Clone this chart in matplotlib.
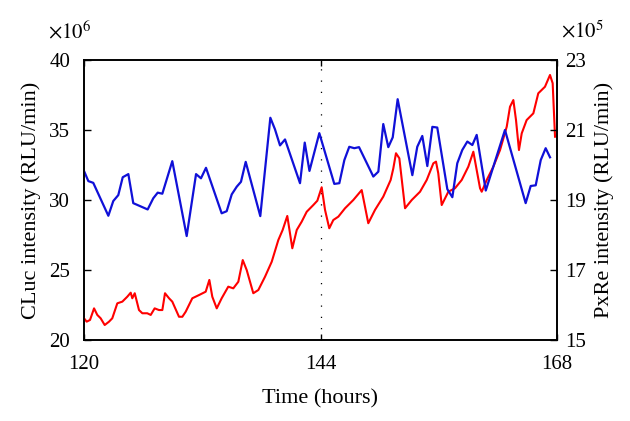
import numpy as np
import matplotlib
matplotlib.use('Agg')
import matplotlib.pyplot as plt

plt.rcParams['font.family'] = ['Liberation Serif', 'DejaVu Serif']
plt.rcParams['mathtext.fontset'] = 'stix'

# PxRe (blue), x10^5 RLU/min, right axis
blue_t = [120.00, 120.44, 120.94, 122.47, 122.97, 123.48, 123.93, 124.50, 125.00, 126.46,
          127.03, 127.48, 127.95, 128.96, 130.42, 131.37, 131.87, 132.38, 133.97, 134.48,
          134.99, 135.50, 135.93, 136.41, 137.89, 138.91, 139.38, 139.89, 140.40, 141.92,
          142.40, 142.88, 143.88, 145.40, 145.91, 146.42, 146.92, 147.43, 147.91, 149.36,
          149.87, 150.37, 150.88, 151.33, 151.83, 153.32, 153.82, 154.33, 154.84, 155.35,
          155.85, 156.87, 157.38, 157.88, 158.39, 158.90, 159.41, 159.85, 160.77, 162.72,
          164.82, 165.33, 165.84, 166.35, 166.85, 167.29]
blue_v = [19.83, 19.54, 19.49, 18.55, 18.97, 19.14, 19.65, 19.74, 18.91, 18.73,
          19.05, 19.21, 19.18, 20.11, 17.97, 19.74, 19.62, 19.92, 18.62, 18.68,
          19.16, 19.38, 19.52, 20.09, 18.54, 21.35, 21.02, 20.56, 20.73, 19.48,
          20.64, 19.83, 20.91, 19.46, 19.48, 20.14, 20.52, 20.48, 20.51, 19.67,
          19.81, 21.17, 20.51, 20.79, 21.88, 19.71, 20.52, 20.83, 19.97, 21.09,
          21.07, 19.31, 19.08, 20.05, 20.43, 20.67, 20.57, 20.86, 19.27, 21.00,
          18.91, 19.40, 19.42, 20.14, 20.48, 20.22]

# CLuc (red), x10^6 RLU/min, left axis
red_t = [120.00, 120.27, 120.61, 121.02, 121.35, 121.69, 122.10, 122.54, 122.87, 123.38,
         123.89, 124.39, 124.74, 124.90, 125.15, 125.58, 125.92, 126.42, 126.77, 127.17,
         127.61, 127.95, 128.22, 128.63, 128.96, 129.64, 129.98, 130.32, 130.99, 131.67,
         132.35, 132.72, 133.02, 133.47, 133.97, 134.64, 135.15, 135.66, 136.11, 136.51,
         137.18, 137.69, 138.37, 139.05, 139.72, 140.16, 140.63, 141.14, 141.59, 142.09,
         142.60, 143.27, 143.68, 144.12, 144.46, 144.89, 145.30, 145.81, 146.49, 147.33,
         148.18, 148.85, 149.53, 150.37, 151.12, 151.39, 151.66, 152.00, 152.58, 153.26,
         154.10, 154.78, 155.45, 155.72, 155.95, 156.30, 156.81, 156.97, 157.65, 158.33,
         159.00, 159.51, 159.85, 160.19, 160.36, 160.87, 161.54, 162.22, 162.90, 163.23,
         163.57, 163.84, 164.14, 164.42, 164.92, 165.60, 166.10, 166.78, 167.29, 167.56,
         167.80]
red_v = [21.55, 21.31, 21.43, 22.26, 21.79, 21.55, 21.07, 21.31, 21.55, 22.62,
         22.74, 23.09, 23.38, 22.98, 23.34, 22.14, 21.91, 21.91, 21.79, 22.26,
         22.14, 22.14, 23.34, 22.98, 22.74, 21.66, 21.66, 22.02, 22.98, 23.21,
         23.45, 24.29, 23.09, 22.26, 22.98, 23.81, 23.69, 24.16, 25.71, 25.00,
         23.34, 23.57, 24.52, 25.59, 27.14, 27.86, 28.86, 26.55, 27.86, 28.45,
         29.16, 29.64, 29.95, 30.91, 29.29, 27.98, 28.57, 28.81, 29.41, 30.00,
         30.71, 28.34, 29.29, 30.24, 31.43, 32.26, 33.34, 32.98, 29.41, 30.00,
         30.59, 31.43, 32.62, 32.74, 31.91, 29.64, 30.36, 30.59, 30.84, 31.43,
         32.38, 33.45, 32.14, 30.84, 30.59, 31.43, 32.38, 33.57, 35.24, 36.66,
         37.14, 35.71, 33.57, 34.76, 35.71, 36.19, 37.62, 38.09, 38.93, 38.34,
         34.52]

x_ticks = [120, 144, 168]
left_ticks = [20, 25, 30, 35, 40]
right_ticks = [15, 17, 19, 21, 23]

fig = plt.figure(figsize=(6.3, 4.21), dpi=100)
ax = fig.add_axes([84 / 630, 1 - 340 / 421, 473 / 630, 280 / 421])
ax2 = ax.twinx()

ax.plot(red_t, red_v, color='#ff0000', lw=1.5, zorder=3)
ax2.plot(blue_t, blue_v, color='#1010d8', lw=1.6)
ax.axvline(144, color='black', lw=0.9, linestyle=(0, (1, 8)))

ax.set_xlim(120, 168)
ax.set_ylim(20, 40)
ax2.set_ylim(15, 23)
ax.set_xticks(x_ticks)
ax.set_yticks(left_ticks)
ax2.set_yticks(right_ticks)

ax.tick_params(axis='x', direction='in', top=True, length=4, width=1, labelsize=15, pad=11)
ax.tick_params(axis='y', direction='in', length=5, width=1, labelsize=15, pad=10)
ax2.tick_params(axis='y', direction='in', length=5, width=1, labelsize=15, pad=6)

for a in (ax, ax2):
    for s in a.spines.values():
        s.set_linewidth(1.2)

ax.set_xlabel('Time (hours)', fontsize=16, labelpad=11)
ax.set_ylabel('CLuc intensity (RLU/min)', fontsize=16, labelpad=6)
ax2.set_ylabel('PxRe intensity (RLU/min)', fontsize=16, labelpad=6, rotation=90)

fig.text(48 / 630, 1 - 32 / 421, r'$\times10^{6}$', fontsize=15, va='center', ha='left')
fig.text(561 / 630, 1 - 32 / 421, r'$\times10^{5}$', fontsize=15, va='center', ha='left')

fig.savefig('out.png', dpi=100)
